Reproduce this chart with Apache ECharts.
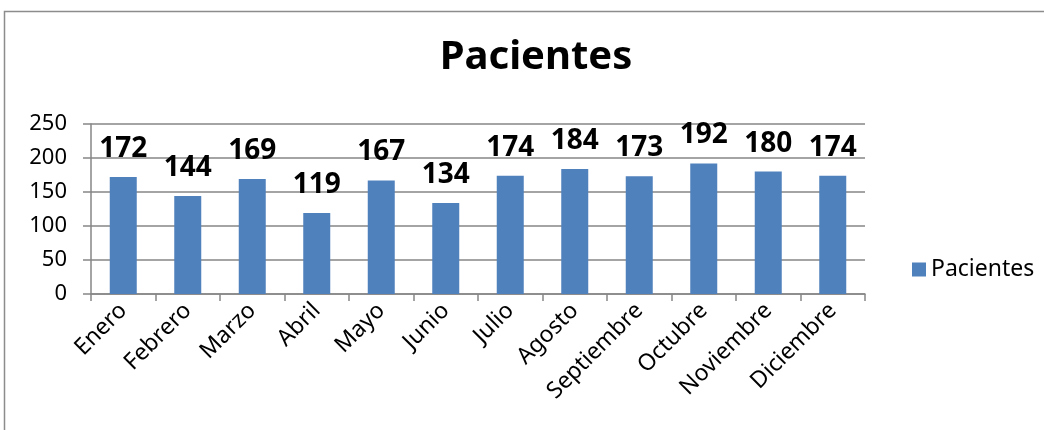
<!DOCTYPE html>
<html>
<head>
<meta charset="utf-8">
<script src="https://cdn.jsdelivr.net/npm/echarts@6/dist/echarts.min.js"></script>
<style>
  html, body { margin: 0; padding: 0; background: #fff; }
  #main { width: 1044px; height: 430px; }
</style>
</head>
<body>
<div id="main"></div>
<script>
// datos del grafico
var meses = ['Enero', 'Febrero', 'Marzo', 'Abril', 'Mayo', 'Junio', 'Julio',
             'Agosto', 'Septiembre', 'Octubre', 'Noviembre', 'Diciembre'];
var pacientes = [172, 144, 169, 119, 167, 134, 174, 184, 173, 192, 180, 174];
var yMin = 0, yMax = 250, yPaso = 50;

var fuente = 'Noto Sans';
var gris = '#868686';

var myChart = echarts.init(document.getElementById('main'));

var option = {
  backgroundColor: '#fff',
  animation: false,
  // marco exterior del grafico
  graphic: [{
    type: 'rect',
    shape: { x: 4.5, y: 11.5, width: 1200, height: 600 },
    style: { fill: 'none', stroke: '#8c8c8c', lineWidth: 1.5 },
    silent: true
  }],
  title: {
    text: 'Pacientes',
    left: 531,
    textAlign: 'center',
    top: 33,
    textStyle: { fontFamily: fuente, fontSize: 40, fontWeight: 'bold', color: '#000' }
  },
  legend: {
    data: ['Pacientes'],
    left: 907,
    top: 253,
    itemWidth: 14,
    itemHeight: 14,
    itemGap: 6,
    icon: 'rect',
    textStyle: { fontFamily: fuente, fontSize: 23, color: '#000' }
  },
  grid: { left: 91, right: 179, top: 124, bottom: 136, containLabel: false },
  xAxis: {
    type: 'category',
    data: meses,
    boundaryGap: true,
    axisLine: { lineStyle: { color: gris, width: 1.5 } },
    axisTick: { show: true, alignWithLabel: false, length: 7, lineStyle: { color: gris, width: 1.5 } },
    axisLabel: { rotate: 45, interval: 0, margin: 13, color: '#000', fontFamily: fuente, fontSize: 23 }
  },
  yAxis: {
    type: 'value',
    min: yMin,
    max: yMax,
    interval: yPaso,
    axisLine: { show: true, lineStyle: { color: gris, width: 1.5 } },
    axisTick: { show: true, length: 8, lineStyle: { color: gris, width: 1.5 } },
    splitLine: { show: true, lineStyle: { color: gris, width: 1.5 } },
    axisLabel: { margin: 24, color: '#000', fontFamily: fuente, fontSize: 22 }
  },
  series: [{
    name: 'Pacientes',
    type: 'bar',
    data: pacientes,
    barWidth: 27,
    itemStyle: { color: '#4f81bd' },
    label: {
      show: true,
      position: 'top',
      distance: 14,
      color: '#000',
      fontFamily: fuente,
      fontSize: 28,
      fontWeight: 'bold'
    }
  }]
};

myChart.setOption(option);
</script>
</body>
</html>
